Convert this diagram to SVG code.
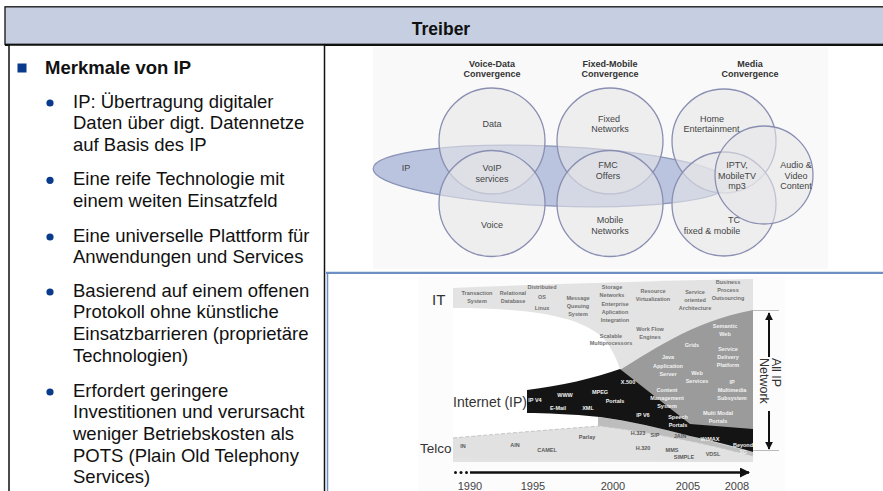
<svg xmlns="http://www.w3.org/2000/svg" width="883" height="491" viewBox="0 0 883 491">
  <defs>
    <style>
      .sans { font-family: "Liberation Sans", Arial, sans-serif; }
      .body { font-family: "Liberation Sans", Arial, sans-serif; font-size: 18.5px; fill: #111; }
      .head { font-family: "Liberation Sans", Arial, sans-serif; font-size: 18.5px; font-weight: bold; fill: #111; }
      .dot { fill: #0a3a8c; }
      .venn-t { font-family: "Liberation Sans", Arial, sans-serif; font-size: 9px; fill: #444; text-anchor: middle; }
      .venn-h { font-family: "Liberation Sans", Arial, sans-serif; font-size: 9px; font-weight: bold; fill: #333; text-anchor: middle; }
      .circ { fill: #e6e6e8; fill-opacity: 0.6; stroke: #8a8fb2; stroke-width: 1.3; }
      .ct { font-family: "Liberation Sans", Arial, sans-serif; font-size: 5.5px; font-weight: bold; text-anchor: middle; }
      .it { fill: #707070; }
      .wt { fill: #f2f2f2; }
      .tc { fill: #5a5a5a; }
      .lab { font-family: "Liberation Sans", Arial, sans-serif; fill: #333; }
      .yr { font-family: "Liberation Sans", Arial, sans-serif; font-size: 11px; fill: #444; text-anchor: middle; }
    </style>
    <marker id="arrowHead" viewBox="0 0 10 10" refX="9" refY="5" markerWidth="4" markerHeight="4" orient="auto-start-reverse" markerUnits="strokeWidth">
      <path d="M0,0 L10,5 L0,10 Z" fill="#111"/>
    </marker>
  </defs>

  <rect x="0" y="0" width="883" height="491" fill="#fff"/>

  <!-- title bar -->
  <g id="title">
    <rect x="5" y="6.8" width="880" height="37.7" fill="#c5cfe1" stroke="#111" stroke-width="1.3"/>
    <line x1="5" y1="44.8" x2="883" y2="44.8" stroke="#111" stroke-width="2.2"/>
    <text x="441" y="35" class="sans" font-size="17.5" font-weight="bold" fill="#111" text-anchor="middle">Treiber</text>
  </g>

  <!-- left text panel -->
  <g id="features">
    <rect x="9" y="45" width="315.5" height="460" fill="#fff" stroke="#111" stroke-width="1.5"/>
    <rect x="17.5" y="63.5" width="9" height="9" class="dot"/>
    <text x="45" y="73.5" class="head">Merkmale von IP</text>

    <circle cx="50" cy="103" r="3.6" class="dot"/>
    <text class="body"><tspan x="73" y="107.7">IP: Übertragung digitaler</tspan><tspan x="73" y="129.3">Daten über digt. Datennetze</tspan><tspan x="73" y="150.9">auf Basis des IP</tspan></text>

    <circle cx="50" cy="180.3" r="3.6" class="dot"/>
    <text class="body"><tspan x="73" y="185">Eine reife Technologie mit</tspan><tspan x="73" y="206.6">einem weiten Einsatzfeld</tspan></text>

    <circle cx="50" cy="237" r="3.6" class="dot"/>
    <text class="body"><tspan x="73" y="241.7">Eine universelle Plattform für</tspan><tspan x="73" y="263.3">Anwendungen und Services</tspan></text>

    <circle cx="50" cy="292" r="3.6" class="dot"/>
    <text class="body"><tspan x="73" y="296.7">Basierend auf einem offenen</tspan><tspan x="73" y="318.3">Protokoll ohne künstliche</tspan><tspan x="73" y="339.9">Einsatzbarrieren (proprietäre</tspan><tspan x="73" y="361.5">Technologien)</tspan></text>

    <circle cx="50" cy="392" r="3.6" class="dot"/>
    <text class="body"><tspan x="73" y="396.7">Erfordert geringere</tspan><tspan x="73" y="418.3">Investitionen und verursacht</tspan><tspan x="73" y="439.9">weniger Betriebskosten als</tspan><tspan x="73" y="461.5">POTS (Plain Old Telephony</tspan><tspan x="73" y="483.1">Services)</tspan></text>
  </g>

  <!-- right panel frame -->
  <g id="frame">
    <line x1="326" y1="272.8" x2="883" y2="272.8" stroke="#6d8fc4" stroke-width="2.3"/>
    <line x1="327.5" y1="272" x2="327.5" y2="491" stroke="#6d8fc4" stroke-width="1.5"/>
  </g>

  <!-- convergence venn -->
  <g id="convergence">
    <rect x="373" y="47" width="455" height="222" fill="#f9f9f9"/>
    <g id="ip-ellipse">
      <ellipse cx="551" cy="176" rx="178" ry="30" transform="rotate(2.4 551 176)" fill="#bac4df" stroke="#8a93b8" stroke-width="1.2"/>
      <text x="406" y="170.7" class="venn-t">IP</text>
    </g>
    <g id="c-data"><circle cx="492" cy="141" r="53" class="circ"/><text x="492" y="127" class="venn-t">Data</text></g>
    <g id="c-voice"><circle cx="492" cy="203.5" r="53" class="circ"/><text x="492" y="228" class="venn-t">Voice</text></g>
    <text class="venn-t"><tspan x="492" y="170.7">VoIP</tspan><tspan x="492" y="181.7">services</tspan></text>
    <text class="venn-h"><tspan x="492" y="66.7">Voice-Data</tspan><tspan x="492" y="77">Convergence</tspan></text>

    <g id="c-fixed"><circle cx="610" cy="141" r="53" class="circ"/><text class="venn-t"><tspan x="609" y="121.7">Fixed</tspan><tspan x="610" y="132.3">Networks</tspan></text></g>
    <g id="c-mobile"><circle cx="610" cy="203.5" r="53" class="circ"/><text class="venn-t"><tspan x="610" y="222.7">Mobile</tspan><tspan x="610" y="233.5">Networks</tspan></text></g>
    <text class="venn-t"><tspan x="608" y="168.3">FMC</tspan><tspan x="608" y="179.3">Offers</tspan></text>
    <text class="venn-h"><tspan x="610" y="66.7">Fixed-Mobile</tspan><tspan x="610" y="77">Convergence</tspan></text>

    <g id="c-home"><circle cx="724" cy="141" r="52" class="circ"/><text class="venn-t"><tspan x="712" y="121.7">Home</tspan><tspan x="711.5" y="132.3">Entertainment</tspan></text></g>
    <g id="c-tc"><circle cx="724" cy="204" r="52" class="circ"/><text class="venn-t"><tspan x="734" y="222.7">TC</tspan><tspan x="712" y="233.5">fixed &amp; mobile</tspan></text></g>
    <g id="c-content"><circle cx="764" cy="175" r="49" class="circ"/><text class="venn-t"><tspan x="796" y="168.3">Audio &amp;</tspan><tspan x="796" y="179.3">Video</tspan><tspan x="796" y="189.3">Content</tspan></text></g>
    <text class="venn-t"><tspan x="737" y="168.3">IPTV,</tspan><tspan x="737" y="179.3">MobileTV</tspan><tspan x="737" y="189.3">mp3</tspan></text>
    <text class="venn-h"><tspan x="750" y="66.7">Media</tspan><tspan x="750" y="77">Convergence</tspan></text>
  </g>

  <!-- technology timeline chart -->
  <g id="timeline">
    <rect x="418" y="276" width="367" height="215" fill="#fcfcfc"/>
    <!-- IT band / upper area -->
    <path d="M453,288 C550,284 650,281 753,279 L753,462 L453,462 Z" fill="#e3e3e3"/>
    <!-- open area below IT -->
    <path d="M453,308 C530,308 580,316 603,338 C612,348 617,360 621,372 L621,442 L453,442 Z" fill="#fff"/>
    <!-- All IP area -->
    <path d="M612,375 C650,352 690,322 753,310 L753,432 L688,426 Z" fill="#9b9b9b"/>
    <!-- mid band below internet -->
    <path d="M598,417 C630,421 660,428 690,436 C715,442 735,448 753,452 L753,458 C720,450 680,442 650,435 C630,431 614,428 598,426 Z" fill="#bdbdbd"/>
    <!-- telco band -->
    <path d="M453,438 C510,433 560,429 600,426 C650,432 700,442 753,456 L753,462 L453,458 Z" fill="#e1e1e1"/>
    <path d="M453,438 C510,433 560,429 600,426 C650,432 700,442 753,456" fill="none" stroke="#c4c4c4" stroke-width="1" stroke-dasharray="4 2"/>
    <!-- internet band -->
    <path d="M527,390 C560,386 595,378 620,369 L690,424 L753,429 L753,452 C735,447 715,441 690,436 C660,428 630,421 600,417 C570,414 545,413 527,413 Z" fill="#141414"/>

    <text x="432" y="305" class="lab" font-size="15">IT</text>
    <text x="527" y="406.7" class="lab" font-size="14" text-anchor="end">Internet (IP)</text>
    <text x="420" y="453" class="lab" font-size="13.5">Telco</text>

    <g class="ct it">
      <text><tspan x="477" y="295">Transaction</tspan><tspan x="477" y="303">System</tspan></text>
      <text><tspan x="513" y="295">Relational</tspan><tspan x="513" y="303">Database</tspan></text>
      <text><tspan x="542" y="289">Distributed</tspan><tspan x="542" y="299">OS</tspan><tspan x="542" y="310">Linux</tspan></text>
      <text><tspan x="578" y="300">Message</tspan><tspan x="578" y="308">Queuing</tspan><tspan x="578" y="316">System</tspan></text>
      <text><tspan x="612" y="289">Storage</tspan><tspan x="612" y="297">Networks</tspan></text>
      <text><tspan x="615" y="306">Enterprise</tspan><tspan x="615" y="314">Aplication</tspan><tspan x="615" y="322">Integration</tspan></text>
      <text><tspan x="611" y="338">Scalable</tspan><tspan x="611" y="345">Multiprocessors</tspan></text>
      <text><tspan x="650" y="331">Work Flow</tspan><tspan x="650" y="339">Engines</tspan></text>
      <text><tspan x="653" y="293">Resource</tspan><tspan x="653" y="301">Virtualization</tspan></text>
      <text><tspan x="695" y="294">Service</tspan><tspan x="695" y="302">oriented</tspan><tspan x="695" y="310">Architecture</tspan></text>
      <text><tspan x="728" y="284">Business</tspan><tspan x="728" y="292">Process</tspan><tspan x="728" y="300">Outsourcing</tspan></text>
    </g>
    <g class="ct wt">
      <text><tspan x="725" y="328">Semantic</tspan><tspan x="725" y="336">Web</tspan></text>
      <text x="692" y="347">Grids</text>
      <text><tspan x="728" y="351">Service</tspan><tspan x="728" y="359">Delivery</tspan><tspan x="728" y="367">Platform</tspan></text>
      <text><tspan x="668" y="359">Java</tspan><tspan x="668" y="368">Application</tspan><tspan x="668" y="376">Server</tspan></text>
      <text><tspan x="697" y="375">Web</tspan><tspan x="697" y="383">Services</tspan></text>
      <text><tspan x="732" y="384">IP</tspan><tspan x="732" y="392">Multimedia</tspan><tspan x="732" y="400">Subsystem</tspan></text>
      <text x="628" y="384">X.500</text>
      <text><tspan x="667" y="392">Content</tspan><tspan x="667" y="400">Management</tspan><tspan x="667" y="408">System</tspan></text>
      <text><tspan x="678" y="419">Speech</tspan><tspan x="678" y="427">Portals</tspan></text>
      <text><tspan x="718" y="415">Multi Modal</tspan><tspan x="718" y="423">Portals</tspan></text>
      <text x="535" y="402">IP V4</text>
      <text x="565" y="397">WWW</text>
      <text x="558" y="410">E-Mail</text>
      <text x="588" y="410">XML</text>
      <text x="600" y="394">MPEG</text>
      <text x="615" y="403">Portals</text>
      <text x="643" y="417">IP V6</text>
      <text x="710" y="441">WiMAX</text>
      <text><tspan x="743" y="447">Beyond</tspan><tspan x="743" y="454">3G</tspan></text>
    </g>
    <g class="ct tc">
      <text x="463" y="448">IN</text>
      <text x="515" y="447">AIN</text>
      <text x="547" y="452">CAMEL</text>
      <text x="587" y="439">Parlay</text>
      <text x="638" y="435">H.323</text>
      <text x="655" y="437">SIP</text>
      <text x="680" y="438">JAIN</text>
      <text x="643" y="450">H.320</text>
      <text x="672" y="452">MMS</text>
      <text x="684" y="459">SIMPLE</text>
      <text x="713" y="456">VDSL</text>
    </g>

    <!-- all-IP span -->
    <line x1="753" y1="310.5" x2="779" y2="310.5" stroke="#aaa" stroke-width="0.8"/>
    <line x1="753" y1="450.5" x2="779" y2="450.5" stroke="#aaa" stroke-width="0.8"/>
    <line x1="769" y1="357" x2="769" y2="313" stroke="#111" stroke-width="2" marker-end="url(#arrowHead)"/>
    <line x1="769" y1="411" x2="769" y2="449" stroke="#111" stroke-width="2" marker-end="url(#arrowHead)"/>
    <text transform="translate(771 358) rotate(90)" class="lab" font-size="12.5" fill="#222"><tspan x="0" y="-1">All IP</tspan><tspan x="0" y="11">Network</tspan></text>

    <!-- time axis -->
    <circle cx="455.5" cy="472.5" r="1.5" fill="#111"/>
    <circle cx="461" cy="472.5" r="1.5" fill="#111"/>
    <circle cx="466.5" cy="472.5" r="1.5" fill="#111"/>
    <line x1="470" y1="472.5" x2="749" y2="472.5" stroke="#111" stroke-width="2.5" marker-end="url(#arrowHead)"/>
    <text x="470" y="490" class="yr">1990</text>
    <text x="533" y="490" class="yr">1995</text>
    <text x="613" y="490" class="yr">2000</text>
    <text x="688" y="490" class="yr">2005</text>
    <text x="737" y="490" class="yr">2008</text>
  </g>
</svg>
